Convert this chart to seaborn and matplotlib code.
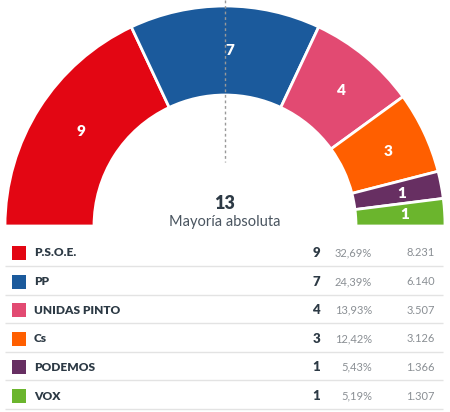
import matplotlib
matplotlib.use("Agg")
import matplotlib.pyplot as plt
import seaborn as sns

# datos de la eleccion
partidos = ["P.S.O.E.", "PP", "UNIDAS PINTO", "Cs", "PODEMOS", "VOX"]
escanos = [9, 7, 4, 3, 1, 1]
porcentajes = ["32,69%", "24,39%", "13,93%", "12,42%", "5,43%", "5,19%"]
votos = ["8.231", "6.140", "3.507", "3.126", "1.366", "1.307"]
colores = ["#e30613", "#1b5a9c", "#e24a72", "#ff5f00", "#672f62", "#6bb52d"]
mayoria = 13

sns.set_theme(style="white")
plt.rcParams["font.family"] = ["Lato", "DejaVu Sans"]

W, H = 450, 412
fig = plt.figure(figsize=(4.5, 4.12), dpi=100)
ax = fig.add_axes([0, 0, 1, 1])

# hemiciclo: pie con una mitad invisible abajo
cx, cy = 225, H - 226
r_ext, r_int = 220, 131
total = sum(escanos)
wedges, textos = ax.pie(
    escanos + [total],
    colors=colores + ["none"],
    labels=[str(e) for e in escanos] + [""],
    labeldistance=(r_ext + r_int) / 2 / r_ext,
    startangle=180,
    counterclock=False,
    center=(cx, cy),
    radius=r_ext,
    wedgeprops=dict(width=r_ext - r_int, edgecolor="white", linewidth=2),
    textprops=dict(color="white", fontsize=11, fontweight="heavy"),
)
wedges[-1].set_edgecolor("none")

# linea de mayoria
ax.plot([cx, cx], [H, H - 162], color="#999999", lw=1, ls=(0, (2, 2)))

ax.text(cx, H - 203, str(mayoria), ha="center", va="center",
        fontsize=13, fontweight="heavy", color="#2d3a45")
ax.text(cx, H - 222, "Mayoría absoluta", ha="center", va="center",
        fontsize=10.5, color="#4a5560")

# tabla
y0, paso = 253, 28.6
for i, p in enumerate(partidos):
    y = H - (y0 + i * paso)
    ax.scatter([19], [y], marker="s", s=110, color=colores[i], linewidths=0)
    ax.text(34, y, p, ha="left", va="center", fontsize=8.6,
            fontweight="heavy", color="#2d3a45")
    ax.text(320, y, str(escanos[i]), ha="right", va="center", fontsize=9.5,
            fontweight="heavy", color="#2d3a45")
    ax.text(372, y, porcentajes[i], ha="right", va="center", fontsize=8,
            color="#8a8f94")
    ax.text(435, y, votos[i], ha="right", va="center", fontsize=8,
            color="#8a8f94")
    ax.hlines(y - 13, 5, 443, color="#e3e3e3", lw=1)

ax.set_xlim(0, W)
ax.set_ylim(0, H)
ax.set_aspect("auto")
ax.axis("off")

fig.savefig("out.png", dpi=100)
